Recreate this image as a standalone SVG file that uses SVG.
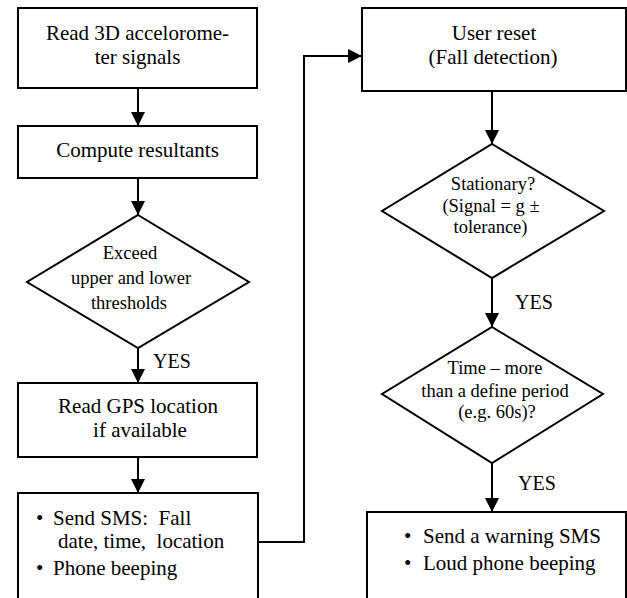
<svg xmlns="http://www.w3.org/2000/svg" width="627" height="598" viewBox="0 0 627 598" font-family="Liberation Serif, Times New Roman, serif">
<defs>
<style>
.box{fill:#fff;stroke:#000;stroke-width:2}
.t{font-size:21px;fill:#000}
.d{font-size:18.5px;fill:#000}
.y{font-size:20px;fill:#000}
.c{text-anchor:middle}
.ln{fill:none;stroke:#000;stroke-width:2}
</style>
<marker id="ah" markerWidth="14" markerHeight="14" viewBox="0 0 14 14" refX="14" refY="7" orient="auto" markerUnits="userSpaceOnUse">
<path d="M0,0 L14,7 L0,14 Z" fill="#000"/>
</marker>
</defs>
<rect width="627" height="598" fill="#fff"/>
<g id="connectors">
<line class="ln" x1="138" y1="88" x2="138" y2="126" marker-end="url(#ah)"/>
<line class="ln" x1="138" y1="178" x2="138" y2="215" marker-end="url(#ah)"/>
<line class="ln" x1="138" y1="348" x2="138" y2="383" marker-end="url(#ah)"/>
<line class="ln" x1="138" y1="457" x2="138" y2="493" marker-end="url(#ah)"/>
<polyline class="ln" points="258,542 304,542 304,56 362,56" marker-end="url(#ah)"/>
<line class="ln" x1="492" y1="91" x2="492" y2="144" marker-end="url(#ah)"/>
<line class="ln" x1="492" y1="278" x2="492" y2="327" marker-end="url(#ah)"/>
<line class="ln" x1="492" y1="463" x2="492" y2="512" marker-end="url(#ah)"/>
<text class="y" x="153" y="368">YES</text>
<text class="y" x="515" y="309">YES</text>
<text class="y" x="518" y="490">YES</text>
</g>
<g id="n1">
<rect class="box" x="18" y="8" width="239" height="80"/>
<text class="t c" x="137.5" y="40">Read 3D accelorome-</text>
<text class="t c" x="137.5" y="64">ter signals</text>
</g>
<g id="n2">
<rect class="box" x="18" y="126" width="239" height="52"/>
<text class="t c" x="137.5" y="157">Compute resultants</text>
</g>
<g id="n3">
<polygon class="box" points="138,215 249,282 138,348 27,282"/>
<text class="d c" x="130" y="259">Exceed</text>
<text class="d c" x="131" y="284">upper and lower</text>
<text class="d c" x="129" y="309">thresholds</text>
</g>
<g id="n4">
<rect class="box" x="18" y="383" width="239" height="74"/>
<text class="t c" x="138" y="413">Read GPS location</text>
<text class="t c" x="140" y="437">if available</text>
</g>
<g id="n5">
<rect class="box" x="18" y="493" width="240" height="115"/>
<text class="t" x="36" y="525">•</text>
<text class="t" x="53" y="525" style="white-space:pre">Send SMS:  Fall</text>
<text class="t" x="58" y="548" style="white-space:pre">date, time,  location</text>
<text class="t" x="36" y="575">•</text>
<text class="t" x="53" y="575">Phone beeping</text>
</g>
<g id="n6">
<rect class="box" x="362" y="8" width="264" height="83"/>
<text class="t c" x="494" y="40">User reset</text>
<text class="t c" x="493" y="64">(Fall detection)</text>
</g>
<g id="n7">
<polygon class="box" points="492,144 604,211 492,278 382,211"/>
<text class="d c" x="493" y="190">Stationary?</text>
<text class="d c" x="491" y="212">(Signal = g ±</text>
<text class="d c" x="490.5" y="233">tolerance)</text>
</g>
<g id="n8">
<polygon class="box" points="492,327 603,394 492,463 382,394"/>
<text class="d c" x="495" y="374">Time – more</text>
<text class="d c" x="495" y="397">than a define period</text>
<text class="d c" x="497" y="418">(e.g. 60s)?</text>
</g>
<g id="n9">
<rect class="box" x="367" y="512" width="259" height="96"/>
<text class="t" x="404" y="543">•</text>
<text class="t" x="423" y="543">Send a warning SMS</text>
<text class="t" x="404" y="570">•</text>
<text class="t" x="423" y="570">Loud phone beeping</text>
</g>
</svg>
